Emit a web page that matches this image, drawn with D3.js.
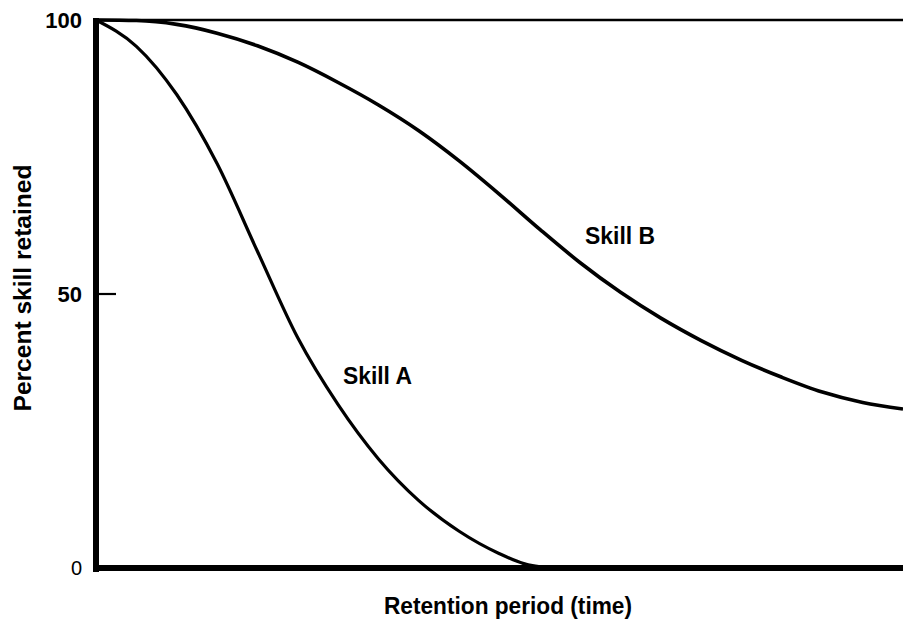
<!DOCTYPE html>
<html>
<head>
<meta charset="utf-8">
<script src="https://cdn.jsdelivr.net/npm/d3@7"></script>
<style>
  html, body { margin: 0; padding: 0; background: #fff; }
  svg { display: block; }
  text { font-family: "Liberation Sans", Arial, Helvetica, sans-serif; fill: #000; }
</style>
</head>
<body>
<svg id="chart" width="903" height="632"></svg>
<script>
// ---- data ----
const yTickValues = [0, 50, 100];
const yTickLabels = ["0", "50", "100"];
const skillATime = [0, 5, 10, 15, 20, 25, 30, 35, 40, 45, 50, 53, 56];
const skillAValue = [100, 95.2, 86.4, 73.8, 57.8, 42.0, 29.8, 19.9, 12.3, 6.7, 2.6, 0.8, 0];
const skillBTime = [0, 5, 10, 15, 20, 25, 30, 35, 40, 45, 50, 55, 60, 65, 70, 75, 80, 85, 90, 95, 100];
const skillBValue = [100, 99.9, 99.2, 97.6, 95.3, 92.3, 88.6, 84.5, 79.8, 74.3, 68.2, 61.8, 55.7, 50.3, 45.6, 41.5, 37.9, 34.8, 32.1, 30.2, 29.0];
const seriesNames = ["Skill A", "Skill B"];
const xAxisTitle = "Retention period (time)";
const yAxisTitle = "Percent skill retained";

// ---- layout ----
const svg = d3.select("#chart");
const mLeft = 96, mRight = 903, mTop = 20, mBottom = 568;
const x = d3.scaleLinear().domain([0, 100]).range([mLeft, mRight]);
const y = d3.scaleLinear().domain([0, 100]).range([mBottom, mTop]);

// top frame line
svg.append("line")
  .attr("x1", x(0)).attr("x2", x(100))
  .attr("y1", y(100)).attr("y2", y(100))
  .attr("stroke", "#000").attr("stroke-width", 2.5);

// curves
const line = d3.line().x(d => x(d[0])).y(d => y(d[1])).curve(d3.curveMonotoneX);
const dataA = skillATime.map((t, i) => [t, skillAValue[i]]);
const dataB = skillBTime.map((t, i) => [t, skillBValue[i]]);
svg.append("path").datum(dataA).attr("d", line)
  .attr("fill", "none").attr("stroke", "#000").attr("stroke-width", 3.2);
svg.append("path").datum(dataB).attr("d", line)
  .attr("fill", "none").attr("stroke", "#000").attr("stroke-width", 3.6);

// y axis with labels
const yAxis = d3.axisLeft(y).tickValues(yTickValues)
  .tickFormat((d, i) => yTickLabels[i]).tickSize(0).tickPadding(14);
const gy = svg.append("g").attr("transform", `translate(${mLeft},0)`).call(yAxis);
gy.select(".domain").remove();
gy.selectAll(".tick text")
  .style("font-family", "\"Liberation Sans\", Arial, sans-serif")
  .style("font-size", d => d === 0 ? "20px" : "22px")
  .style("font-weight", d => d === 0 ? "normal" : "bold")
  .attr("fill", "#000");
// inward tick at 50
svg.append("line")
  .attr("x1", mLeft).attr("x2", mLeft + 20)
  .attr("y1", y(50)).attr("y2", y(50))
  .attr("stroke", "#000").attr("stroke-width", 2.2);

// main axes (thick)
svg.append("line")
  .attr("x1", mLeft).attr("x2", mLeft)
  .attr("y1", y(100) - 2).attr("y2", y(0) + 4)
  .attr("stroke", "#000").attr("stroke-width", 6);
svg.append("line")
  .attr("x1", mLeft - 3).attr("x2", x(100))
  .attr("y1", y(0)).attr("y2", y(0))
  .attr("stroke", "#000").attr("stroke-width", 6);

// series labels
svg.append("text").attr("x", x(30.6)).attr("y", y(33.6))
  .attr("font-size", 24).attr("font-weight", "bold")
  .attr("textLength", 69).attr("lengthAdjust", "spacingAndGlyphs")
  .text(seriesNames[0]);
svg.append("text").attr("x", x(60.6)).attr("y", y(59.2))
  .attr("font-size", 24).attr("font-weight", "bold")
  .attr("textLength", 70).attr("lengthAdjust", "spacingAndGlyphs")
  .text(seriesNames[1]);

// axis titles
svg.append("text").attr("x", 508).attr("y", 614)
  .attr("text-anchor", "middle").attr("font-size", 23).attr("font-weight", "bold")
  .attr("textLength", 248).attr("lengthAdjust", "spacingAndGlyphs")
  .text(xAxisTitle);
svg.append("text").attr("transform", "translate(31,288) rotate(-90)")
  .attr("text-anchor", "middle").attr("font-size", 24).attr("font-weight", "bold")
  .attr("textLength", 247).attr("lengthAdjust", "spacingAndGlyphs")
  .text(yAxisTitle);
</script>
</body>
</html>
